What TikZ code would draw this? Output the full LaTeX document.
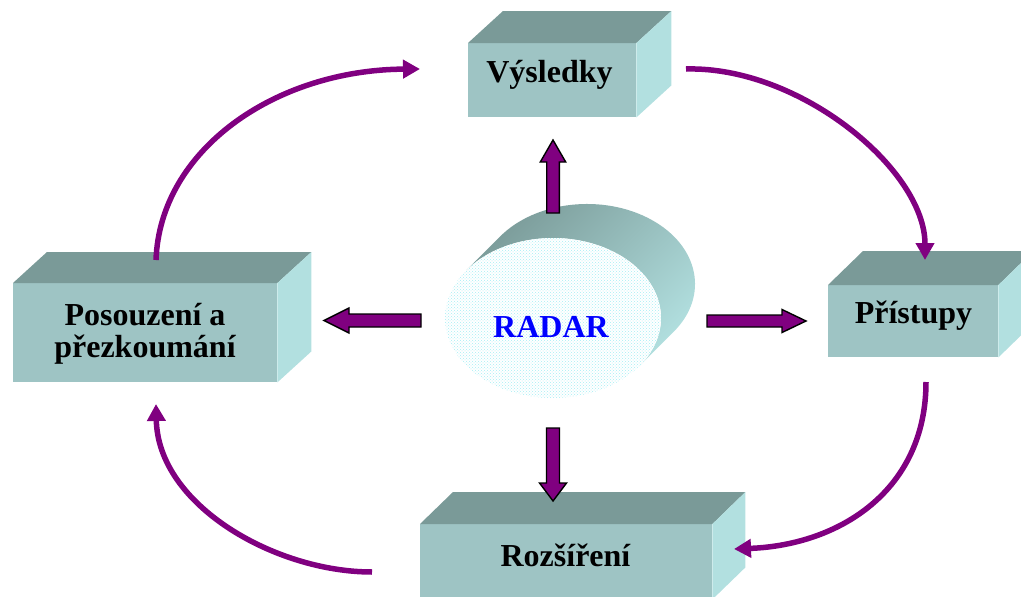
\documentclass[tikz,border=0pt]{standalone}
\usepackage{fontspec}
\setmainfont{Liberation Serif}
\usetikzlibrary{arrows.meta,patterns,calc}

\definecolor{slabtop}{RGB}{122,154,152}
\definecolor{slabfront}{RGB}{158,196,196}
\definecolor{slabside}{RGB}{178,224,224}
\definecolor{loopcol}{RGB}{128,0,128}
\definecolor{dotcol}{RGB}{165,238,245}
\definecolor{radarblue}{RGB}{0,0,255}

\tikzset{
  slab/.style={fill=slabfront, draw=none, inner sep=0pt, anchor=north west},
  lbl/.style={font=\fontsize{32}{34}\selectfont\bfseries, inner sep=0pt, anchor=base},
  cycle arrow/.style={draw=loopcol, line width=5.5pt, -{Triangle[length=17pt,width=18pt]}},
  blockarrow/.style={fill=loopcol, draw=black, line width=1.4pt, line join=miter},
}

% 3-D slab: name, x, y (front top-left), width, height, depth dx, depth dy
\newcommand{\slabbox}[7]{%
  \node[slab, minimum width=#4pt, minimum height=#5pt] (#1) at (#2,#3) {};
  \fill[slabtop] (#1.north west) -- ++(#6,-#7) -- ($(#1.north east)+(#6,-#7)$) -- (#1.north east) -- cycle;
  \fill[slabside] (#1.north east) -- ++(#6,-#7) -- ($(#1.south east)+(#6,-#7)$) -- (#1.south east) -- cycle;
}

\begin{document}
\begin{tikzpicture}[x=1pt, y=-1pt]
  \useasboundingbox (0,0) rectangle (1021,597);
  \clip (0,0) rectangle (1021,597);

  % the four slabs
  \slabbox{res}{468}{43}{168}{74}{35}{32}
  \slabbox{rev}{13}{283}{264}{99}{34}{31}
  \slabbox{app}{828}{285}{170}{72}{35}{34}
  \slabbox{ext}{420}{524}{292}{75}{33}{32}

  \node[lbl] (res-t) at (549.5,82) {Výsledky};
  \node[lbl] (rev-t1) at (145,325) {Posouzení a};
  \node[lbl] (rev-t2) at (145,357) {přezkoumání};
  \node[lbl] (app-t) at (913.5,323) {Přístupy};
  \node[lbl] (ext-t) at (565.5,566) {Rozšíření};

  % the RADAR drum: shaded side, dotted face
  \shade[top color=slabtop, bottom color=slabside, shading angle=45]
    (466.2,270.4) -- (500.2,236.4)
    arc[start angle=216.5, end angle=396.5, x radius=108, y radius=80]
    -- (639.8,365.6)
    arc[start angle=36.5, end angle=-143.5, x radius=108, y radius=80] -- cycle;
  \fill[white] (553,318) ellipse[x radius=108, y radius=80];
  \fill[pattern=crosshatch dots, pattern color=dotcol] (553,318) ellipse[x radius=108, y radius=80];
  \node[lbl, text=radarblue] (radar) at (551,337) {RADAR};

  % block arrows out of the drum
  \filldraw[blockarrow] (546.7,213) -- (546.7,162) -- (540.3,162) -- (553,140)
    -- (565.7,162) -- (559.3,162) -- (559.3,213) -- cycle;
  \filldraw[blockarrow] (546.5,428) -- (546.5,483) -- (539.5,483) -- (553,501)
    -- (566.5,483) -- (559.5,483) -- (559.5,428) -- cycle;
  \filldraw[blockarrow] (421,314) -- (349,314) -- (349,308) -- (324,320.5)
    -- (349,333) -- (349,327) -- (421,327) -- cycle;
  \filldraw[blockarrow] (707,315) -- (782,315) -- (782,309.5) -- (806,321)
    -- (782,332.5) -- (782,327) -- (707,327) -- cycle;

  % the cycle between the slabs
  \coordinate (c1s) at (156,260);  \coordinate (c1e) at (420,69);
  \coordinate (c2s) at (686,69);   \coordinate (c2e) at (925,260);
  \coordinate (c3s) at (926,382);  \coordinate (c3e) at (734,549);
  \coordinate (c4s) at (372,572);  \coordinate (c4e) at (156,404);
  \draw[cycle arrow] (c1s) .. controls (160,150) and (275,70) .. (c1e);
  \draw[cycle arrow] (c2s) .. controls (800,66) and (925,170) .. (c2e);
  \draw[cycle arrow] (c3s) .. controls (926,490) and (840,545) .. (c3e);
  \draw[cycle arrow] (c4s) .. controls (275,572) and (158,505) .. (c4e);
\end{tikzpicture}
\end{document}
